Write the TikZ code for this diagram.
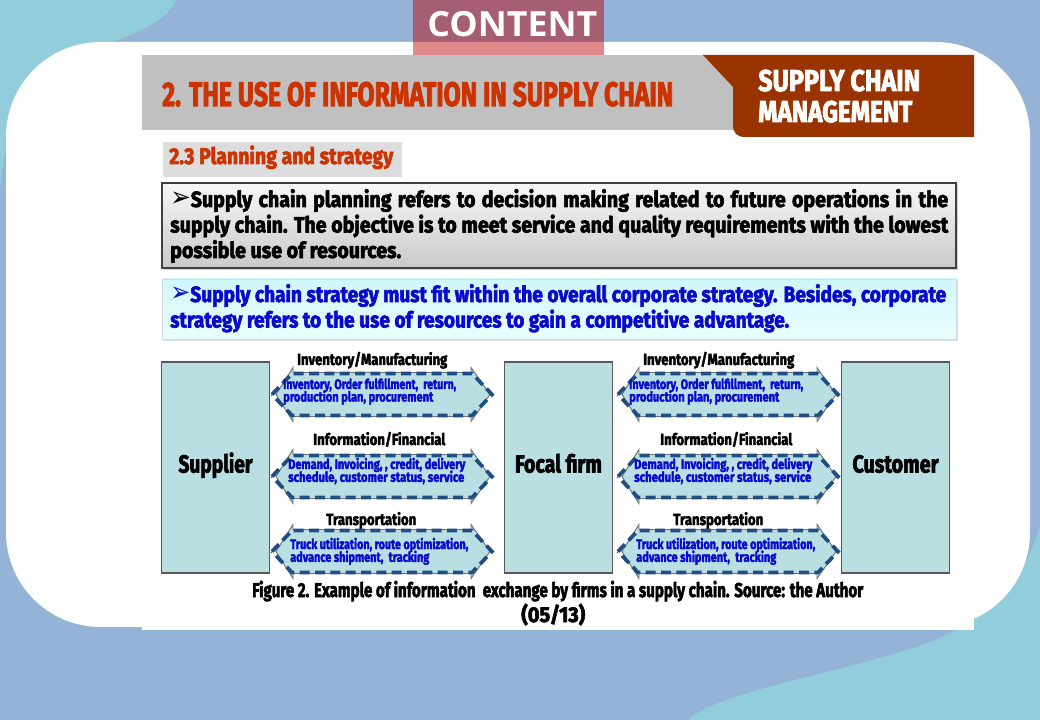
\documentclass[tikz,border=0pt]{standalone}
\usepackage{fontspec}
\usepackage{graphicx}
\usetikzlibrary{shadows}
\setmainfont{Fira Sans}
\newfontfamily\imp[FakeBold=3]{Fira Sans}
\newfontfamily\osans{Open Sans}
\newfontfamily\dvs{DejaVu Sans}

\definecolor{bgblue}{HTML}{95B3D7}
\definecolor{bgteal}{HTML}{92CDDC}
\definecolor{tabtop}{HTML}{A65E72}
\definecolor{tabbot}{HTML}{E0888A}
\definecolor{hdrgray}{HTML}{C0C0C0}
\definecolor{brownhdr}{HTML}{993300}
\definecolor{titlered}{HTML}{CC3300}
\definecolor{subgray}{HTML}{DDDDDD}
\definecolor{boxcyan}{HTML}{B9DFE3}
\definecolor{strattop}{HTML}{D2F6FA}
\definecolor{stratbot}{HTML}{EBFFFF}
\definecolor{dashblue}{HTML}{1F4E85}
\definecolor{txtblue}{HTML}{0A0ACC}

% horizontal fit of a single line to a given width (pt), height kept
\newlength\natw
\newlength\refw
\newcommand\fitw[2]{\resizebox{#1pt}{\height}{#2}}
% justified line: scaled glyphs, stretched word spaces
\newcommand\jline[3]{\scalebox{#1}[1]{\pgfmathsetlength\natw{#2/#1}\makebox[\natw][s]{#3}}}
% last (ragged) line of a paragraph with the same scale
\newcommand\sline[2]{\scalebox{#1}[1]{#2}}
\newcommand\bodyfont{\imp\bfseries\fontsize{16.5}{19}\selectfont}
\newcommand\bul{{\dvs\mdseries\scalebox{1.25}{➢}}}

\tikzset{
  txt/.style={anchor=base west, inner sep=0pt},
  entity/.style={draw=black!65, fill=boxcyan, line width=0.8pt,
    minimum width=80.5pt, minimum height=158.25pt, inner sep=0pt,
    text height=13.5pt, text depth=6pt,
    font=\imp\bfseries\fontsize{18.5}{20}\selectfont},
  flowlabel/.style={txt, font=\imp\bfseries\fontsize{12}{13}\selectfont},
  flowtext/.style={txt, text=txtblue, font=\imp\bfseries\fontsize{10.3}{11}\selectfont},
  arrowbody/.style={fill=boxcyan, draw=black!55, line width=0.7pt},
  arrowdash/.style={draw=dashblue, line width=2.8pt, dash pattern=on 7.5pt off 4pt},
}

% double arrow between two firms: left tip, right tip, centre line
\newcommand\dblarrow[3]{%
  \path[arrowbody] (#1+4,#3) -- (#1+21,#3-27) -- (#1+21,#3-22) -- (#2-21,#3-22)
    -- (#2-21,#3-27) -- (#2-2,#3) -- (#2-21,#3+27) -- (#2-21,#3+22)
    -- (#1+21,#3+22) -- (#1+21,#3+27) -- cycle;
  \path[arrowdash] (#1,#3) -- (#1+20,#3-21) -- (#2-20,#3-21) -- (#2,#3)
    -- (#2-20,#3+21) -- (#1+20,#3+21) -- cycle;}

\begin{document}
% horizontal scales of the two paragraphs, set by their longest lines
\settowidth\refw{\bodyfont supply chain. The objective is to meet service and quality requirements with the lowest}%
\pgfmathsetmacro\bsA{583.5/\refw}%
\settowidth\refw{\bodyfont\bul Supply chain strategy must fit within the overall corporate strategy. Besides, corporate}%
\pgfmathsetmacro\bsB{582/\refw}%
\begin{tikzpicture}[x=0.75pt,y=-0.75pt]
\useasboundingbox (0,0) rectangle (1040,720);

% slide background
\fill[bgblue] (0,0) rectangle (1040,720);
\fill[bgteal] (0,0) -- (176,0) .. controls (165,28) and (110,42) .. (60,62)
  .. controls (25,80) and (5,130) .. (0,190) -- cycle;
\fill[bgteal] (1040,525) -- (1040,720) -- (688,720)
  .. controls (720,690) and (850,672) .. (930,642)
  .. controls (990,618) and (1025,580) .. (1040,525) -- cycle;
\fill[white, rounded corners=71pt] (6,42) rectangle (1030,627);
\fill[white] (142,55) rectangle (974,630);

% tab
\fill[tabtop] (413,0) rectangle (604,42);
\fill[tabbot] (413,42) rectangle (604,55);
\node[txt, text=white] (tab) at (427,37)
  {\osans\bfseries\fontsize{26}{28}\selectfont\fitw{127.5}{CONTENT}};

% header bar
\fill[hdrgray] (142,55) rectangle (740,130);
\fill[brownhdr] (703,55) -- (974,55) -- (974,137) -- (745,137)
  .. controls (737,137) and (733,133) .. (733,125) -- (733,87) -- cycle;
\node[txt, text=titlered] (title) at (162,106)
  {\imp\bfseries\fontsize{25.5}{27}\selectfont\fitw{383.25}{2. THE USE OF INFORMATION IN SUPPLY CHAIN}};
\node[txt, text=white] (scm1) at (758,91)
  {\imp\bfseries\fontsize{22.5}{24}\selectfont\fitw{121.5}{SUPPLY CHAIN}};
\node[txt, text=white] (scm2) at (758,122)
  {\imp\bfseries\fontsize{22.5}{24}\selectfont\fitw{115.5}{MANAGEMENT}};

% section heading
\fill[subgray] (163,142) rectangle (402,177);
\node[txt, text=titlered] (sec) at (169,164)
  {\imp\bfseries\fontsize{17}{18}\selectfont\fitw{168}{2.3 Planning and strategy}};

% planning box
\node[draw=black!75, line width=0.8pt, top color=gray!6, bottom color=gray!42,
  minimum width=595.5pt, minimum height=63.75pt, inner sep=0pt,
  drop shadow={shadow xshift=1.5pt, shadow yshift=-1.5pt, opacity=0.35}]
  (planbox) at (559,225.5) {};
\node[txt] (plantxt) at (170,207) {\bodyfont\vtop{\baselineskip=19.1pt\lineskiplimit=-30pt
  \hbox{\jline\bsA{583.5}{\bul Supply chain planning refers to decision making related to future operations in the}}
  \hbox{\jline\bsA{583.5}{supply chain. The objective is to meet service and quality requirements with the lowest}}
  \hbox{\sline\bsA{possible use of resources.}}}};

% strategy box
\node[draw=cyan!15!gray!35, line width=0.6pt, top color=strattop, bottom color=stratbot,
  minimum width=595.5pt, minimum height=45pt, inner sep=0pt,
  drop shadow={shadow xshift=1.5pt, shadow yshift=-1.5pt, opacity=0.25}]
  (stratbox) at (559,309) {};
\node[txt, text=txtblue] (strattxt) at (170,302) {\bodyfont\vtop{\baselineskip=19.1pt\lineskiplimit=-30pt
  \hbox{\jline\bsB{582}{\bul Supply chain strategy must fit within the overall corporate strategy. Besides, corporate}}
  \hbox{\sline\bsB{strategy refers to the use of resources to gain a competitive advantage.}}}};

% firms
\node[entity] (sup) at (215.5,467.5) {\fitw{55.5}{Supplier}};
\node[entity] (focal) at (558.5,467.5) {\fitw{65.25}{Focal firm}};
\node[entity] (cust) at (895.5,467.5) {\fitw{64.5}{Customer}};

% flows between supplier and focal firm
\dblarrow{272}{492}{394.5}
\dblarrow{272}{492}{476.5}
\dblarrow{272}{492}{551.5}
% flows between focal firm and customer
\dblarrow{618}{838}{394.5}
\dblarrow{618}{838}{476.5}
\dblarrow{618}{838}{551.5}

\node[flowlabel] (l1) at (297,365) {\fitw{112.5}{Inventory/Manufacturing}};
\node[flowlabel] (l2) at (313,445) {\fitw{99}{Information/Financial}};
\node[flowlabel] (l3) at (326,525) {\fitw{67.5}{Transportation}};
\node[flowlabel] (r1) at (643,365) {\fitw{113.25}{Inventory/Manufacturing}};
\node[flowlabel] (r2) at (660,445) {\fitw{99}{Information/Financial}};
\node[flowlabel] (r3) at (673,525) {\fitw{67.5}{Transportation}};

\node[flowtext] (t1) at (283,389) {\vtop{\baselineskip=9.4pt\lineskiplimit=-20pt
  \hbox{\fitw{129.75}{Inventory, Order fulfillment,\ \ return,}}
  \hbox{\fitw{112.5}{production plan, procurement}}}};
\node[flowtext] (t2) at (288,469) {\vtop{\baselineskip=9.6pt\lineskiplimit=-20pt
  \hbox{\fitw{132.75}{Demand, Invoicing, , credit, delivery}}
  \hbox{\fitw{132}{schedule, customer status, service}}}};
\node[flowtext] (t3) at (290,549) {\vtop{\baselineskip=9.6pt\lineskiplimit=-20pt
  \hbox{\fitw{133.5}{Truck utilization, route optimization,}}
  \hbox{\fitw{104.25}{advance shipment,\ \ tracking}}}};
\node[flowtext] (u1) at (629,389) {\vtop{\baselineskip=9.4pt\lineskiplimit=-20pt
  \hbox{\fitw{130.5}{Inventory, Order fulfillment,\ \ return,}}
  \hbox{\fitw{112.5}{production plan, procurement}}}};
\node[flowtext] (u2) at (634,469) {\vtop{\baselineskip=9.6pt\lineskiplimit=-20pt
  \hbox{\fitw{133.5}{Demand, Invoicing, , credit, delivery}}
  \hbox{\fitw{132.75}{schedule, customer status, service}}}};
\node[flowtext] (u3) at (636,549) {\vtop{\baselineskip=9.6pt\lineskiplimit=-20pt
  \hbox{\fitw{134.25}{Truck utilization, route optimization,}}
  \hbox{\fitw{105}{advance shipment,\ \ tracking}}}};

% caption and page number
\node[txt] (cap) at (252,597)
  {\imp\bfseries\fontsize{15}{16}\selectfont\fitw{458.25}{Figure 2. Example of information\ \ exchange by firms in a supply chain. Source: the Author}};
\node[txt] (page) at (521,622)
  {\imp\bfseries\fontsize{16}{17}\selectfont\fitw{48}{(05/13)}};
\end{tikzpicture}
\end{document}
